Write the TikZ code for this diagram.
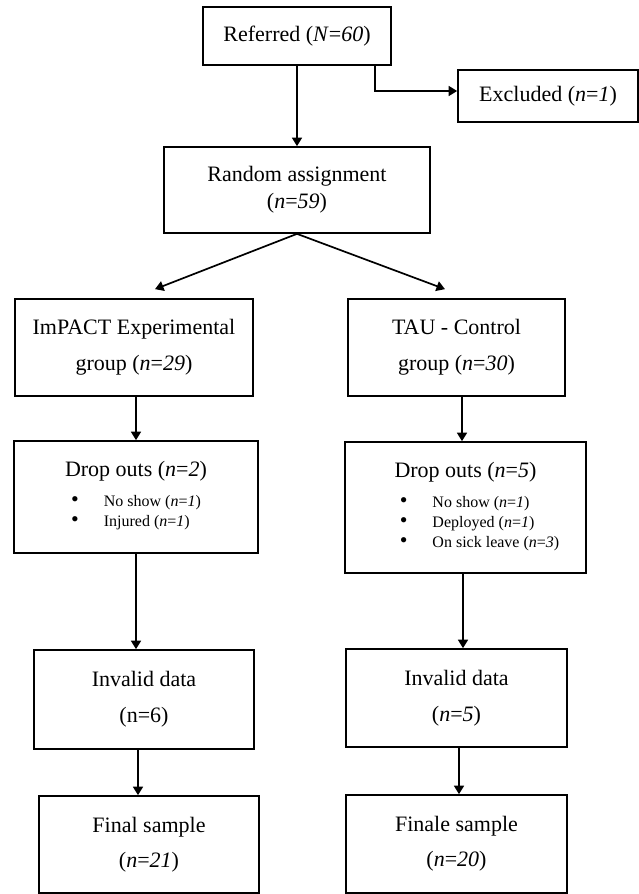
\documentclass[tikz,border=0pt]{standalone}
\usepackage{fontspec}
\setmainfont{Liberation Serif}
\usetikzlibrary{arrows.meta,positioning,calc}
\tikzset{
  flowbox/.style = {draw, line width=1.7pt, inner sep=0pt, align=center, font=\fontsize{22}{27}\selectfont},
  flowarrow/.style = {-{Triangle[length=8.5pt,width=10pt]}, line width=1.7pt},
}
\newcommand{\bigbullet}{{\fontsize{22}{20}\selectfont\textbullet}}
\newcommand{\bulletlist}[1]{{\fontsize{16}{20}\selectfont\begin{tabular}[t]{@{}l@{\hspace{25pt}}l@{}}#1\end{tabular}}}

\begin{document}
\begin{tikzpicture}[x=1pt, y=-1pt]
\useasboundingbox (0,0) rectangle (638,894);

% Top: referral and exclusion
\node[flowbox, minimum width=188pt, minimum height=58pt] (refd) at (297,36) {Referred (\textit{N}=\textit{60})};
\node[flowbox, minimum width=180pt, minimum height=52pt] (excl) at (548,96) {Excluded (\textit{n}=\textit{1})};
\node[flowbox, minimum width=266pt, minimum height=86pt] (rand) at (297,190) {Random assignment\\(\textit{n}=\textit{59})};

\draw[flowarrow] (refd.south) -- (rand.north);
\draw[flowarrow] ([xshift=-17pt]refd.south east) |- ([yshift=5pt]excl.west);

% Groups
\node[flowbox, minimum width=238pt, minimum height=97pt] (expgrp) at (134,347.5) {ImPACT Experimental\\[9pt]group (\textit{n}=\textit{29})};
\node[flowbox, minimum width=217pt, minimum height=97pt] (ctrlgrp) at (456.5,347.5) {TAU - Control\\[9pt]group (\textit{n}=\textit{30})};

\draw[flowarrow] (rand.south) -- ([xshift=21pt,yshift=9pt]expgrp.north);
\draw[flowarrow] (rand.south) -- ([xshift=-11.5pt,yshift=9pt]ctrlgrp.north);

% Drop outs
\node[flowbox, minimum width=244pt, minimum height=112pt] (dropL) at (136,497) {Drop outs (\textit{n}=\textit{2})\\[3pt]
  \bulletlist{\bigbullet & No show (\textit{n}=\textit{1})\\ \bigbullet & Injured (\textit{n}=\textit{1})}};
\node[flowbox, minimum width=241pt, minimum height=131pt] (dropR) at (465.5,507.5) {Drop outs (\textit{n}=\textit{5})\\[3pt]
  \hspace*{28pt}\bulletlist{\bigbullet & No show (\textit{n}=\textit{1})\\ \bigbullet & Deployed (\textit{n}=\textit{1})\\ \bigbullet & On sick leave (\textit{n}=\textit{3})}};

\draw[flowarrow] (dropL.north |- expgrp.south) -- (dropL.north);
\draw[flowarrow] ([xshift=5.5pt]ctrlgrp.south) -- ([xshift=5.5pt]ctrlgrp.south |- dropR.north);

% Invalid data
\node[flowbox, minimum width=220pt, minimum height=99pt] (invL) at (144,699.5) {Invalid data\\[9pt](n=6)};
\node[flowbox, minimum width=221pt, minimum height=98pt] (invR) at (456.5,698) {Invalid data\\[9pt](\textit{n}=\textit{5})};

\draw[flowarrow] (dropL.south) -- (dropL.south |- invL.north);
\draw[flowarrow] ([xshift=-2.5pt]dropR.south) -- ([xshift=-2.5pt]dropR.south |- invR.north);

% Final sample
\node[flowbox, minimum width=220pt, minimum height=97pt] (finL) at (149,844.5) {Final sample\\[8pt](\textit{n}=\textit{21})};
\node[flowbox, minimum width=221pt, minimum height=98pt] (finR) at (456.5,844) {Finale sample\\[8pt](\textit{n}=\textit{20})};

\draw[flowarrow] ([xshift=-6pt]invL.south) -- ([xshift=-6pt]invL.south |- finL.north);
\draw[flowarrow] ([xshift=2.5pt]invR.south) -- ([xshift=2.5pt]invR.south |- finR.north);

\end{tikzpicture}
\end{document}
